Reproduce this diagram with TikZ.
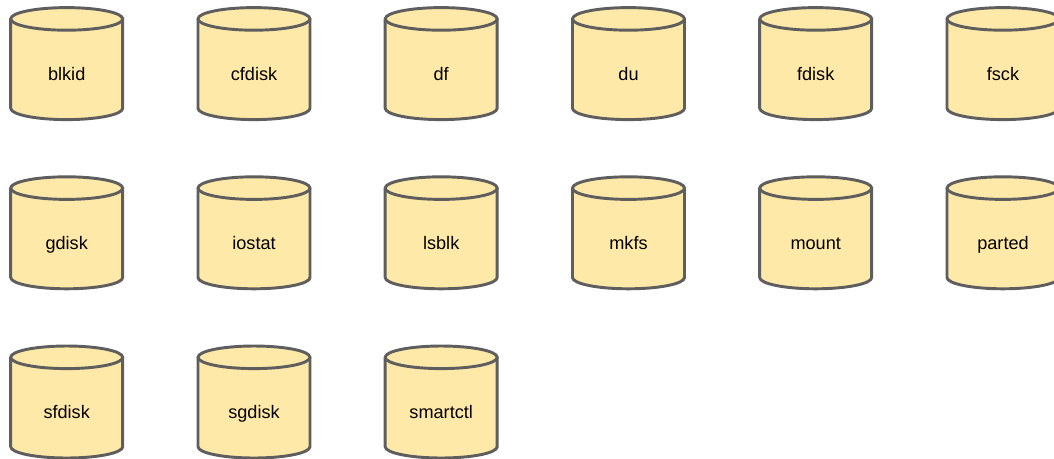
\documentclass[tikz,border=0pt]{standalone}
\usepackage{fontspec}
\setmainfont{Liberation Sans}
\definecolor{drumfill}{HTML}{FFE9A8}
\definecolor{drumline}{HTML}{5E5E5E}
\tikzset{
    drumbody/.style={draw=drumline, fill=drumfill, line width=2.2pt, line join=round},
    drumtext/.style={font=\fontsize{13.6pt}{16pt}\selectfont, text=black, anchor=base, inner sep=0pt},
    drum/.pic={
        \draw[drumbody] (-56,-44.7) -- (-56,44.7) .. controls (-56,50.9) and (-31,56) .. (0,56)
            .. controls (31,56) and (56,50.9) .. (56,44.7) -- (56,-44.7) -- cycle;
        \draw[drumbody] (0,-44.7) ellipse [x radius=56, y radius=11.3];
        \node [drumtext] (-label) at (0,16.7) {\tikzpictext};
    },
}
\begin{document}
\begin{tikzpicture}[x=0.75pt,y=-0.75pt]
        \clip (0,0) rectangle (1054,458);
        \pic [pic text=blkid] (blkid) at (66.7,63.6) {drum};
        \pic [pic text=cfdisk] (cfdisk) at (254,63.6) {drum};
        \pic [pic text=df] (df) at (441.2,63.6) {drum};
        \pic [pic text=du] (du) at (628.5,63.6) {drum};
        \pic [pic text=fdisk] (fdisk) at (815.7,63.6) {drum};
        \pic [pic text=fsck] (fsck) at (1003,63.6) {drum};
        \pic [pic text=gdisk] (gdisk) at (66.7,232.8) {drum};
        \pic [pic text=iostat] (iostat) at (254,232.8) {drum};
        \pic [pic text=lsblk] (lsblk) at (441.2,232.8) {drum};
        \pic [pic text=mkfs] (mkfs) at (628.5,232.8) {drum};
        \pic [pic text=mount] (mount) at (815.7,232.8) {drum};
        \pic [pic text=parted] (parted) at (1003,232.8) {drum};
        \pic [pic text=sfdisk] (sfdisk) at (66.7,402) {drum};
        \pic [pic text=sgdisk] (sgdisk) at (254,402) {drum};
        \pic [pic text=smartctl] (smartctl) at (441.2,402) {drum};
    \end{tikzpicture}
\end{document}
